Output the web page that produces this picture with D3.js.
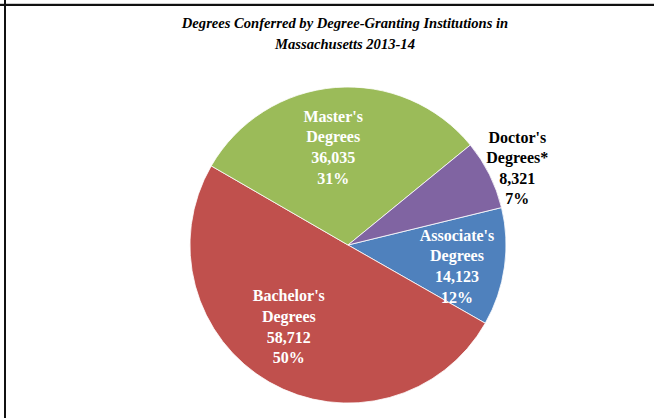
<!DOCTYPE html>
<html>
<head>
<meta charset="utf-8">
<script src="https://cdn.jsdelivr.net/npm/d3@7"></script>
<style>
  body { margin: 0; background: #fff; }
  svg { display: block; }
</style>
</head>
<body>
<div id="chart"></div>
<script>
// degree types, in drawing order (clockwise)
var categories = ["Associate's Degrees", "Bachelor's Degrees", "Master's Degrees", "Doctor's Degrees*"];
var degrees = [14123, 58712, 36035, 8321];
var percentLabels = ["12%", "50%", "31%", "7%"];
var colors = ["#4F81BD", "#C0504D", "#9BBB59", "#8064A2"];

var width = 654, height = 418;
var cx = 348, cy = 245, radius = 158;

var svg = d3.select("#chart").append("svg")
  .attr("width", width)
  .attr("height", height);

// page frame lines
svg.append("line")
  .attr("x1", 0).attr("x2", width)
  .attr("y1", 5).attr("y2", 5)
  .attr("stroke", "#111").attr("stroke-width", 2);
svg.append("line")
  .attr("x1", 0).attr("x2", width)
  .attr("y1", 3.5).attr("y2", 3.5)
  .attr("stroke", "#ccc").attr("stroke-width", 1);
svg.append("line")
  .attr("x1", 5).attr("x2", 5)
  .attr("y1", 0).attr("y2", height)
  .attr("stroke", "#111").attr("stroke-width", 2);

// title
var title = svg.append("text")
  .attr("text-anchor", "middle")
  .style("font-family", "'Liberation Serif', 'Times New Roman', serif")
  .style("font-weight", "bold")
  .style("font-style", "italic")
  .style("font-size", "14.6px")
  .attr("fill", "#000");
title.append("tspan").attr("x", 345).attr("y", 28)
  .text("Degrees Conferred by Degree-Granting Institutions in");
title.append("tspan").attr("x", 345).attr("y", 49)
  .text("Massachusetts 2013-14");

var startAngle = 76.3 * Math.PI / 180;

var pie = d3.pie()
  .sort(null)
  .value(function(d) { return d; })
  .startAngle(startAngle)
  .endAngle(startAngle + 2 * Math.PI);

var arcs = pie(degrees);

var arc = d3.arc().innerRadius(0).outerRadius(radius);

var g = svg.append("g").attr("transform", "translate(" + cx + "," + cy + ")");

g.selectAll("path")
  .data(arcs)
  .enter()
  .append("path")
  .attr("d", arc)
  .attr("fill", function(d, i) { return colors[i]; })
  .attr("stroke", "#fff")
  .attr("stroke-width", 0.8);

// label placement: radius and angle nudge per slice (Excel-like)
var labelRadius = [111, 101, 99, 186];
var labelNudge = [3, 6, -4, 2]; // degrees

function labelPos(d, i) {
  var a = (d.startAngle + d.endAngle) / 2 + labelNudge[i] * Math.PI / 180;
  return [Math.sin(a) * labelRadius[i], -Math.cos(a) * labelRadius[i]];
}

var labels = g.selectAll("text.lbl")
  .data(arcs)
  .enter()
  .append("text")
  .attr("class", "lbl")
  .attr("text-anchor", "middle")
  .style("font-family", "'Liberation Serif', 'Times New Roman', serif")
  .style("font-weight", "bold")
  .style("font-size", "16px")
  .attr("fill", function(d, i) { return i === 3 ? "#000" : "#fff"; });

labels.each(function(d, i) {
  var p = labelPos(d, i);
  var words = categories[i].split(" ");
  var lines = [words[0], words[1], d3.format(",")(degrees[i]), percentLabels[i]];
  var sel = d3.select(this);
  lines.forEach(function(t, k) {
    sel.append("tspan")
      .attr("x", p[0])
      .attr("y", p[1] + (k - 1.5) * 20.6 + 5.5)
      .text(t);
  });
});
</script>
</body>
</html>
